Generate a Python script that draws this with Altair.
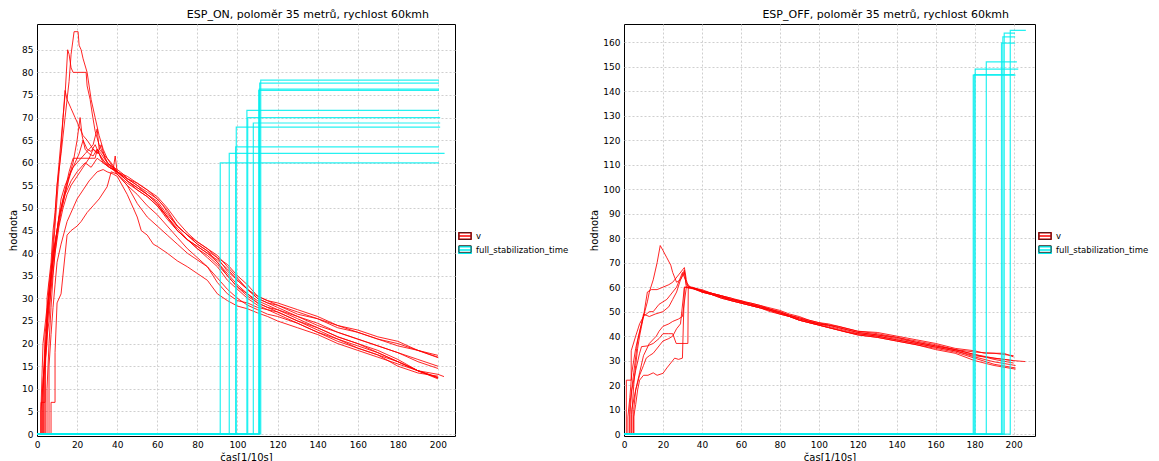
import altair as alt
import pandas as pd

SERIES = ["v", "full_stabilization_time"]
BOX_KEYS = ["v_box", "full_stabilization_time_box"]
COLORS = ["#ff0000", "#00eeee"]
X_TICKS = list(range(0, 201, 20))
ON_Y_TICKS = list(range(0, 86, 5))
OFF_Y_TICKS = list(range(0, 161, 10))
ON_TITLE = "ESP_ON, poloměr 35 metrů, rychlost 60kmh"
OFF_TITLE = "ESP_OFF, poloměr 35 metrů, rychlost 60kmh"

# ---------------- ESP_ON : v runs (t, v) ----------------
on_run1 = [(1,0),(3,0),(3,12),(5,20),(5,30),(7,38),(8,45),(9,49),(10,55),(12,62),(14,70),(16,78),(17,84),(18.5,89),(20.5,89),(21,86),(22,85),(23,83),(25,80),(27,74),(29,70),(31,66),(33,63),(35,61),(38,59),(40,58.5),(43,57.5),(45,56.5),(50,55),(55,53.5),(60,52),(63,50.5),(65,49),(70,46),(75,44),(80,42.5),(85,41),(90,39),(95,36),(100,34),(105,32),(110,30),(115,29),(120,28),(130,26),(140,24.5),(150,22.5),(160,21),(170,19.5),(180,18),(190,16),(200,14.5)]
on_run2 = [(1,0),(2,0),(2,7),(4,7),(4,18),(6,25),(7,33),(8,40),(9,46),(10,52),(11,58),(12,63),(13,70),(14,75),(15.3,85),(16,84),(17,81),(18,80),(24.5,80),(25,77),(26.5,74),(27.5,71),(29,67),(31,64),(33,62),(35,61),(37,60),(40,58),(45,56),(50,54.5),(55,53),(60,51),(65,48),(70,45.5),(75,43),(80,41),(85,39.5),(90,37.5),(95,35),(100,32.5),(105,31),(110,29),(115,28),(120,27),(130,25),(140,23.5),(150,21.5),(160,20),(170,18.5),(180,16.5),(190,14),(200,12.5)]
on_run3 = [(1,0),(4,0),(4,15),(5,22),(6,30),(7,36),(8,42),(9,48),(10,55),(11,60),(12,65),(13,70),(14,76),(15,74),(17,72),(19,70),(21,68),(23,66),(25,65),(28,63),(31,62),(34,60),(37,59),(40,57.5),(45,55.5),(50,54),(55,52.5),(60,50.5),(65,47.5),(70,45),(75,43),(80,41.5),(85,40),(90,38.5),(95,36.5),(100,34),(105,32),(110,30.5),(115,29.5),(120,28.5),(130,27),(140,25.5),(150,24),(160,22.5),(170,21),(180,19.5),(190,18.5),(200,17)]
on_run4 = [(1,0),(5,0),(5,10),(6,20),(7,28),(8,35),(9,40),(10,44),(12,49),(14,53),(16,57),(18,60),(20,65),(21.5,70),(22.5,66),(24,63),(26,62),(28,61.5),(30,63),(32,61),(34,60),(36,59),(38,58.5),(39,61.5),(40,58),(45,56),(50,54),(55,52.5),(60,50.5),(65,48),(70,45),(75,43),(80,41.5),(85,40),(90,38),(95,35.5),(100,33),(105,31),(110,29.5),(115,28.5),(120,27.5),(130,25.5),(140,23.5),(150,21.5),(160,20),(170,18),(180,16),(190,14),(200,12.5)]
on_run5 = [(1,0),(3,0),(3,8),(4,22),(6,30),(8,38),(10,45),(12,52),(14,55),(16,57),(18,59),(20,60),(22,61),(24,62),(26,63),(28,64),(30,67.5),(31,63),(33,62),(35,60),(38,59),(40,58),(45,56.5),(50,55.5),(55,54),(60,52.5),(65,50),(70,47),(75,44.5),(80,42.5),(85,41),(90,39.5),(95,37),(100,34.5),(105,32),(110,30),(115,29),(120,28.5),(130,26.5),(140,25.5),(150,23.5),(160,22.5),(170,21),(180,20),(190,18.5),(200,17.4)]
on_run6 = [(1,0),(2,0),(2,5),(4,18),(5,27),(7,35),(9,42),(11,48),(13,52),(15,55),(17,58),(19,60),(21,62),(23,65),(25,63),(27,62.5),(29,64),(31,62),(33,60),(36,59),(40,58),(45,57),(50,55.5),(55,54),(60,52),(65,49.5),(70,46),(75,44),(80,42),(85,40.5),(90,39),(95,37.5),(100,35),(105,33),(110,30.5),(115,29.5),(120,29),(130,27.5),(140,26),(150,24),(160,23),(170,21.5),(180,20.5),(190,18.5),(200,16.9)]
on_run7 = [(1,0),(4,0),(4,12),(5,25),(6,33),(8,40),(10,45),(12,50),(14,54),(16,58),(18,61),(29,61),(30,63),(32,62),(35,60),(38,59),(40,57.5),(45,55),(50,51),(55,48),(60,46),(65,44),(70,42),(75,40),(80,38.5),(85,37),(90,34.5),(95,32),(100,30),(105,28.5),(110,27.5),(115,26.5),(120,26),(130,24.5),(140,22.5),(150,21),(160,19.5),(170,18),(180,16),(190,14),(200,12.2)]
on_run8 = [(1,0),(6,0),(6,15),(7,22),(8,28),(9,33),(10,38),(12,42),(15,47),(18,50),(20,52),(23,54),(26,56),(28,57),(30,58),(33,58.5),(35,58),(38,57.5),(40,57),(45,53),(50,48),(52,45),(55,44),(58,42),(60,41.5),(65,40),(70,38.3),(75,37),(80,35.5),(85,34),(90,31),(95,29.5),(100,28.3),(105,27.7),(110,26.8),(115,26),(120,25),(130,23.5),(140,22),(150,20),(160,18.5),(170,17),(180,15.5),(190,14),(200,12.4)]
on_run9 = [(1,0),(7,0),(7,7),(9,7),(9,18),(10,29),(12,31),(15,44),(17,45),(20,46),(22,47),(25,49),(28,50.5),(31,52),(35,54.7),(37,58),(40,57.5),(45,55),(50,53),(55,50.5),(60,48.5),(65,46),(70,43.5),(75,41),(80,39),(85,37),(90,33.5),(95,31),(100,29.5),(105,29),(110,28),(115,27.5),(120,27),(130,25),(140,23),(150,21),(160,19),(170,17.5),(180,15),(190,13.5),(200,12.8)]
on_run10 = [(1,0),(3,0),(3,10),(5,24),(7,32),(9,40),(11,46),(13,50),(15,53),(17,55),(20,57),(23,59),(26,61),(28,63),(30,62),(32,64),(34,61),(36,59.5),(40,58),(45,56),(50,54.5),(55,53),(60,51.5),(65,48.5),(70,46),(75,44),(80,42),(85,40.5),(90,38),(95,35),(100,32.5),(105,30.5),(110,29),(115,28),(120,27.5),(130,26),(140,24),(150,22.5),(160,21),(170,19.5),(180,18),(190,16.5),(200,15)]
on_run11 = [(1,0),(2,0),(2,6),(3,20),(5,28),(7,35),(9,42),(11,48),(14,53),(17,56),(20,58),(24,60),(27,59),(30,61),(33,60),(36,59),(40,58),(45,56.5),(50,55),(55,53),(60,51),(65,48),(70,45),(75,43),(80,41),(85,39),(90,37),(95,34),(100,32),(105,30),(110,28.5),(115,27.5),(120,26.5),(130,24.5),(140,22.5),(150,20.5),(160,19),(170,17.5),(180,16),(190,14),(200,13.2),(203,12.7)]

# ESP_ON : full_stabilization_time (start time, level, end time)
on_stab_start = [91.4, 95.9, 99.1, 99.4, 104.7, 105.1, 107.9, 110.6, 110.9, 111.1, 111.6]
on_stab_value = [60.0, 62.1, 63.5, 67.9, 71.6, 70.0, 68.8, 76.0, 76.3, 77.6, 78.3]
on_stab_end = [200.5, 203.3, 200.5, 201.1, 200.5, 201.1, 201.1, 200.5, 200.5, 200.5, 200.5]

# ---------------- ESP_OFF : v runs (t, v) ----------------
off_run1 = [(1,0),(4,0),(4,8),(5,20),(6,28),(7,35),(8,40),(9,44),(10,48),(12,54),(13,58),(15,63),(17,70),(18.6,77),(20,75),(22,72),(24,69),(25,66),(27,62),(29,63),(31,66),(32,61),(34,60),(37,59),(40,58.5),(45,57.5),(50,56.5),(55,55),(60,54),(65,53.5),(70,52.5),(75,51),(80,50),(85,48.5),(90,47.5),(95,46.5),(100,45.5),(105,44.5),(110,44),(115,43),(120,42),(130,41.5),(140,40),(150,38.5),(160,37),(170,35),(180,34),(185,33),(195,33),(200,31.5)]
off_run2 = [(1,0),(2,0),(2,7),(3,15),(4,25),(6,35),(8,42),(10,48),(12,58),(14,59),(17,59),(20,60),(23,61),(25,62),(28,65),(31,68),(32,63),(33,60),(36,59.5),(40,58.5),(45,57),(50,56),(55,55),(60,54.5),(65,53),(70,52),(75,51),(80,49.5),(85,48.5),(90,47),(95,46),(100,45),(105,44.5),(110,43.5),(115,42.5),(120,41.5),(130,40.5),(140,39.5),(150,37.5),(160,36),(170,34.5),(180,33.5),(190,33),(200,32)]
off_run3 = [(1,0),(3,0),(3,12),(5,25),(7,38),(9,45),(10,49),(13,48),(16,49),(20,50),(23,52),(25,55),(27,58),(29,63),(31,67),(32,60),(35,59.5),(40,58),(45,57),(50,55.5),(55,54.5),(60,53.5),(65,52.5),(70,51.5),(75,50),(80,49),(85,48),(90,46.5),(95,45.5),(100,44.5),(105,43.5),(110,42.5),(115,41.5),(120,41),(130,40),(140,38.5),(150,37),(160,35.5),(170,34),(180,32),(190,31),(200,30)]
off_run4 = [(1,0),(5,0),(5,10),(6,18),(8,25),(10,32),(13,37),(16.6,40),(18,42),(20,44),(23,45),(25,46),(28,47),(30,48),(32,60),(35,60),(40,58.5),(45,57.5),(50,56),(55,55),(60,54),(65,53),(70,52),(75,51),(80,50),(85,48.5),(90,47.5),(95,46),(100,45),(105,44.5),(110,43.5),(115,42.5),(120,41.5),(130,40.5),(140,39),(150,37.5),(160,36),(170,34.5),(180,32.5),(190,30.5),(200,29)]
off_run5 = [(1,0),(3,0),(3,8),(4,18),(6,26),(8,33),(9,35.7),(12,36),(15,37),(18,39),(20,41),(23,41),(25,41),(26.8,37),(32.8,37),(33,60),(36,59.5),(40,59),(45,57.5),(50,56.5),(55,55.5),(60,54),(65,53),(70,52),(75,50.5),(80,49.5),(85,48),(90,47),(95,46),(100,45),(105,44),(110,43),(115,42),(120,41),(130,40),(140,38.5),(150,37),(160,35.5),(170,34),(180,31.5),(190,29.5),(201,28)]
off_run6 = [(1,0),(4,0),(4,10),(6,18),(8,24),(10,28),(11.4,31),(13,32),(15,33),(18,36),(20,38),(23,39),(25,40),(27,43),(29,45),(31,60),(34,59.5),(38,59),(40,58),(45,57),(50,55.5),(55,54.5),(60,53.5),(65,52.5),(70,51.5),(75,50.5),(80,49),(85,48),(90,46.5),(95,45.5),(100,44.5),(105,43.5),(110,42.5),(115,41.5),(120,40.5),(130,39.5),(140,38),(150,36.5),(160,35),(170,33.5),(180,31),(190,28.5),(201,27)]
off_run7 = [(1,0),(5,0),(5,7),(6,12),(7,18),(8,22),(10,24),(12.3,24),(15,25),(17,24),(20,24.8),(22,27),(24,29),(26,31),(28,30.5),(30,31),(31,60),(34,60),(37,59),(40,58),(45,57),(50,56),(55,54.5),(60,53.5),(65,52.5),(70,51.5),(75,50.5),(80,49.5),(85,48),(90,46.5),(95,45.5),(100,44.5),(105,43.5),(110,42.5),(115,41.5),(120,40.5),(130,39.5),(140,38),(150,36.5),(160,34.5),(170,33),(180,30),(190,28),(201,26.5)]
off_run8 = [(0.5,0),(1.2,0),(1.2,22),(3.7,22),(3.7,34),(6,40),(8,45),(10,48),(13,50),(15,50),(18,53),(22,55),(25,58),(27,60),(30,66),(32,62),(34,60),(37,59.5),(40,58.5),(45,57.5),(50,56.5),(55,55.5),(60,54.5),(65,53.5),(70,52.5),(75,51.5),(80,50.5),(85,49),(90,48),(95,46.5),(100,45.5),(105,45),(110,44),(115,43),(120,42),(130,41),(140,39.5),(150,38),(160,36.5),(170,34.5),(180,32.5),(190,31),(200,30),(206,29.6)]

# ESP_OFF : full_stabilization_time (start time, level, end time)
off_stab_start = [179.3, 179.8, 180.3, 186.0, 193.8, 194.5, 195.2, 198.3]
off_stab_value = [146.6, 146.8, 149.1, 152.0, 159.7, 162.2, 163.8, 164.9]
off_stab_end = [201.0, 200.5, 202.4, 201.7, 200.8, 200.8, 200.7, 206.3]

ON_RUNS = [on_run1, on_run2, on_run3, on_run4, on_run5, on_run6, on_run7, on_run8, on_run9, on_run10, on_run11]
OFF_RUNS = [off_run1, off_run2, off_run3, off_run4, off_run5, off_run6, off_run7, off_run8]

FONT = "DejaVu Sans"
BOX_LINE = "M-1,-0.55H1V0.55H-1ZM-1,0H1"
BOX = "M-1,-0.55H1V0.55H-1Z"
GRID_COLOR = {"condition": {"test": "datum.value === 0", "value": "transparent"}, "value": "#cfcfcf"}


def build(runs, starts, values, ends):
    rows = []
    for i, run in enumerate(runs):
        for j, (t, v) in enumerate(run):
            rows.append({"t": t, "v": v, "run": f"v{i}", "series": SERIES[0],
                         "box": BOX_KEYS[0], "idx": j})
    for i, (s, val, e) in enumerate(zip(starts, values, ends)):
        pts = [(0, 0), (s, 0), (s, val), (e, val)]
        for j, (t, v) in enumerate(pts):
            rows.append({"t": t, "v": v, "run": f"s{i}", "series": SERIES[1],
                         "box": BOX_KEYS[1], "idx": j})
    return pd.DataFrame(rows)


def panel(df, title, xmax, ydom, yticks, width, height):
    x = alt.X("t:Q", scale=alt.Scale(domain=[0, xmax], nice=False, zero=False),
              axis=alt.Axis(values=X_TICKS, title="čas[1/10s]", labelFlush=False,
                            gridColor=GRID_COLOR))
    y = alt.Y("v:Q", scale=alt.Scale(domain=ydom, nice=False, zero=False),
              axis=alt.Axis(values=yticks, title="hodnota", labelFlush=False))
    leg_common = dict(title=None, orient="none", legendX=width + 3, legendY=205,
                      symbolSize=150, rowPadding=0, labelFont=FONT, labelFontSize=8.5,
                      labelOffset=4, padding=0)
    color = alt.Color("series:N", scale=alt.Scale(domain=SERIES, range=COLORS),
                      legend=alt.Legend(symbolType=BOX_LINE, symbolStrokeWidth=1.5,
                                        labelColor="#000", **leg_common))
    opac = alt.Opacity("box:N", scale=alt.Scale(domain=BOX_KEYS, range=[0.85, 0.85]),
                       legend=alt.Legend(symbolType=BOX, symbolStrokeWidth=1,
                                         symbolStrokeColor="#222", symbolFillColor="transparent",
                                         labelExpr="''", **leg_common))
    base = alt.Chart(df).encode(x=x, y=y, color=color, opacity=opac,
                                detail="run:N", order="idx:Q")
    red = base.transform_filter(alt.datum.series == SERIES[0]).mark_line(strokeWidth=1)
    cyan = base.transform_filter(alt.datum.series == SERIES[1]).mark_line(strokeWidth=1.2)
    return alt.layer(red, cyan).properties(
        width=width, height=height,
        title=alt.TitleParams(text=title, anchor="end", dx=-26, offset=4, frame="group",
                              font=FONT, fontSize=11, fontWeight="normal", color="#000"))


left = panel(build(ON_RUNS, on_stab_start, on_stab_value, on_stab_end), ON_TITLE,
             208.5, [-0.44, 90.7], ON_Y_TICKS, 418, 412)
right = panel(build(OFF_RUNS, off_stab_start, off_stab_value, off_stab_end), OFF_TITLE,
              211, [-0.8, 167.5], OFF_Y_TICKS, 411, 412)

chart = alt.hconcat(left, right, spacing=169, bounds="flush").resolve_scale(
    color="independent", opacity="independent"
).properties(padding=0, background="white").configure_view(
    stroke="#000", strokeWidth=1
).configure_axis(
    grid=True, gridColor="#cfcfcf", gridDash=[2, 2], gridWidth=1, domain=False, ticks=False,
    labelFont=FONT, labelFontSize=9, labelColor="#000", labelPadding=4,
    titleFont=FONT, titleFontSize=10, titleFontWeight="normal", titleColor="#000", titlePadding=3
)

chart.save("out.html", embed_options={"renderer": "svg", "actions": False})
